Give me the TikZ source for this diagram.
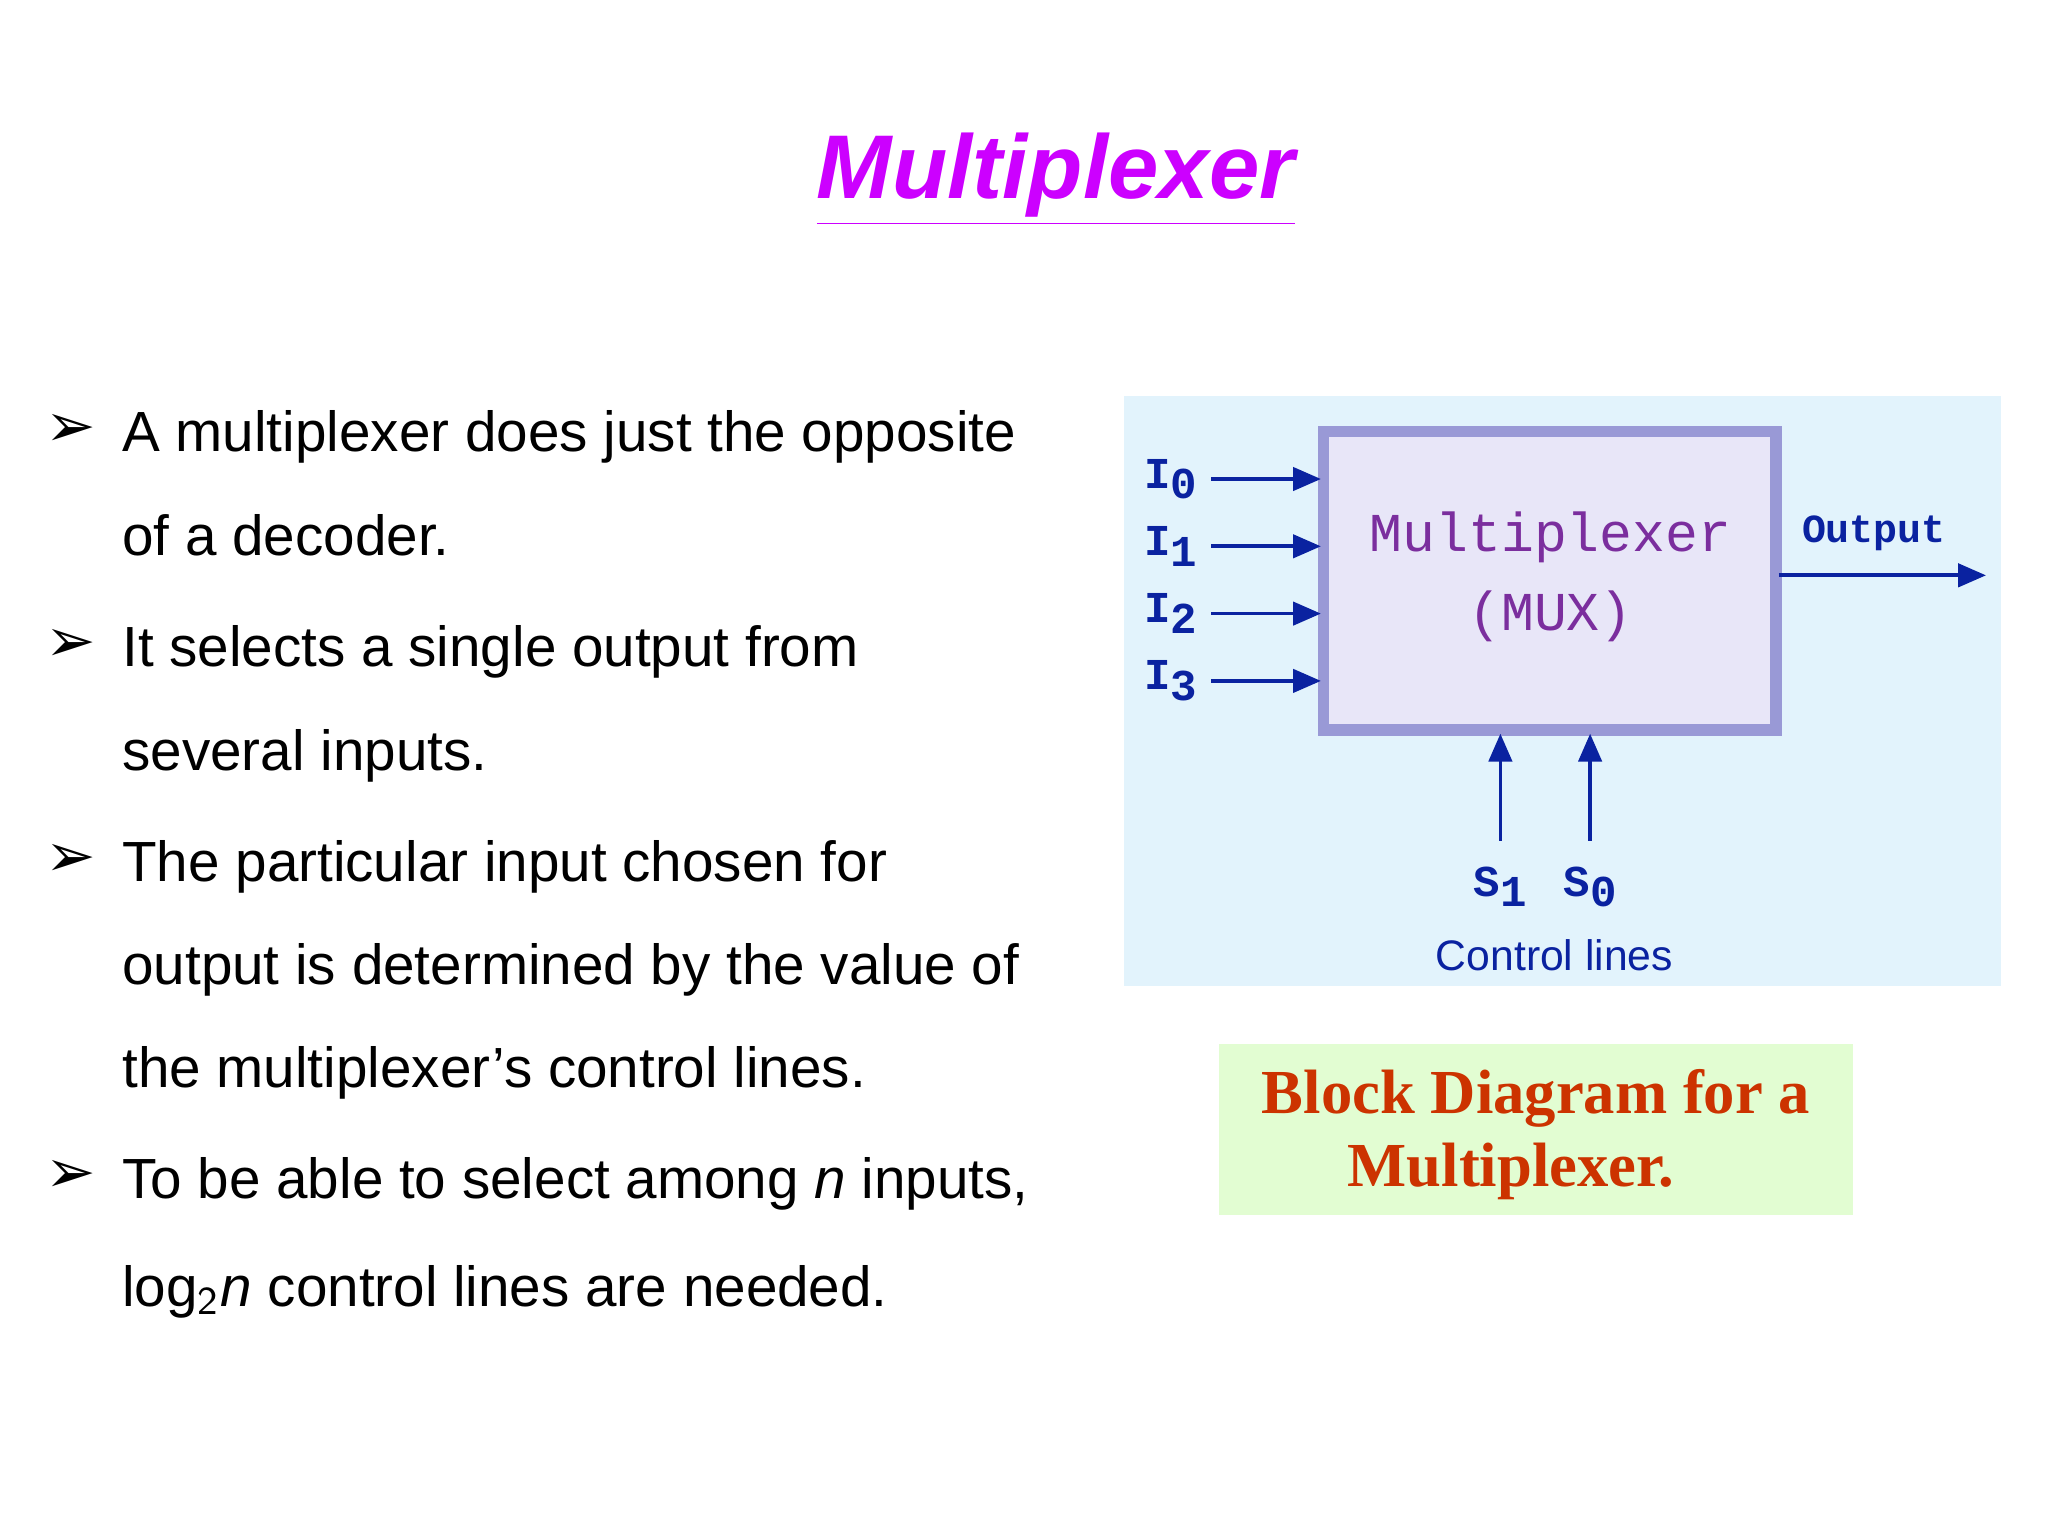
\documentclass[tikz,border=0pt]{standalone}
\usepackage{fontspec}
\setmainfont{Liberation Sans}
\newfontfamily\monof{Liberation Mono}
\newfontfamily\serf{Liberation Serif}
\newfontfamily\djv{DejaVu Sans}
\usetikzlibrary{arrows.meta}
\definecolor{mag}{HTML}{CC00FF}
\definecolor{bgblue}{HTML}{E2F3FC}
\definecolor{boxfill}{HTML}{E8E6F8}
\definecolor{boxline}{HTML}{9999D6}
\definecolor{navy}{HTML}{0A22A0}
\definecolor{purp}{HTML}{7B2E9E}
\definecolor{grn}{HTML}{E2FDD2}
\definecolor{redo}{HTML}{CC3300}
\begin{document}
\begin{tikzpicture}[x=0.01cm,y=-0.01cm,
  body/.style={anchor=base west,font=\fontsize{12.2}{14}\selectfont,inner sep=0},
  bul/.style={anchor=base west,font=\djv\bfseries\fontsize{13}{14}\selectfont,inner sep=0},
  mono/.style={font=\monof\bfseries\fontsize{9.5}{11}\selectfont,text=navy,inner sep=0},
  arr/.style={draw=navy,line width=0.8pt,-{Triangle[length=6pt,width=5pt]}}]
\useasboundingbox (0,0) rectangle (1552,1164);
\node[font=\bfseries\itshape\fontsize{19.5}{21}\selectfont,text=mag,inner sep=0] (title) at (800,136) {\underline{Multiplexer}};
% bullets
\foreach \y in {338,501,664,904} \node[bul] at (34,\y) {➢};
\node[body] (l1) at (92,342) {A multiplexer does just the opposite};
\node[body] (l2) at (92,421) {of a decoder.};
\node[body] (l3) at (92,505) {It selects a single output from};
\node[body] (l4) at (92,584) {several inputs.};
\node[body] (l5) at (92,668) {The particular input chosen for};
\node[body] (l6) at (92,746) {output is determined by the value of};
\node[body] (l7) at (92,824) {the multiplexer’s control lines.};
\node[body] (l8) at (92,908) {To be able to select among \textit{n} inputs,};
\node[body] (l9) at (92,990) {log$_{\mathsf{2}}$\textit{n} control lines are needed.};
% diagram
\fill[bgblue] (852,300) rectangle (1516,747);
\draw[boxline,fill=boxfill,line width=2.5pt] (1003,327) rectangle (1346,553);
\node[font=\monof\fontsize{11.8}{13}\selectfont,text=purp,inner sep=0,align=center] (mux) at (1175,437) {Multiplexer\\[4pt](MUX)};
\foreach \i/\y in {0/363,1/414,2/465,3/516}{
  \node[mono,anchor=east] (I\i) at (908,\y) {I\raisebox{-0.45ex}{\i}};
  \coordinate (a\i) at (918,\y); \coordinate (b\i) at (1001,\y);
  \draw[arr] (a\i) -- (b\i);}
\coordinate (o1) at (1348,436); \coordinate (o2) at (1505,436);
\draw[arr] (o1) -- (o2);
\node[mono,font=\monof\bfseries\fontsize{8.6}{10}\selectfont] (out) at (1420,404) {Output};
\coordinate (c1a) at (1137,637); \coordinate (c1b) at (1137,556);
\coordinate (c0a) at (1205,637); \coordinate (c0b) at (1205,556);
\draw[arr] (c1a) -- (c1b); \draw[arr] (c0a) -- (c0b);
\node[mono] (s1) at (1137,672) {S\raisebox{-0.45ex}{1}};
\node[mono] (s0) at (1205,672) {S\raisebox{-0.45ex}{0}};
\node[font=\fontsize{9.2}{11}\selectfont,text=navy,inner sep=0] (cl) at (1178,724) {Control lines};
% caption
\fill[grn] (924,791) rectangle (1404,921);
\node[font=\serf\bfseries\fontsize{13.5}{16}\selectfont,text=redo,inner sep=0] (cap1) at (1164,832) {Block Diagram for a};
\node[font=\serf\bfseries\fontsize{13.5}{16}\selectfont,text=redo,inner sep=0] (cap2) at (1145,888) {Multiplexer.};
\end{tikzpicture}
\end{document}
